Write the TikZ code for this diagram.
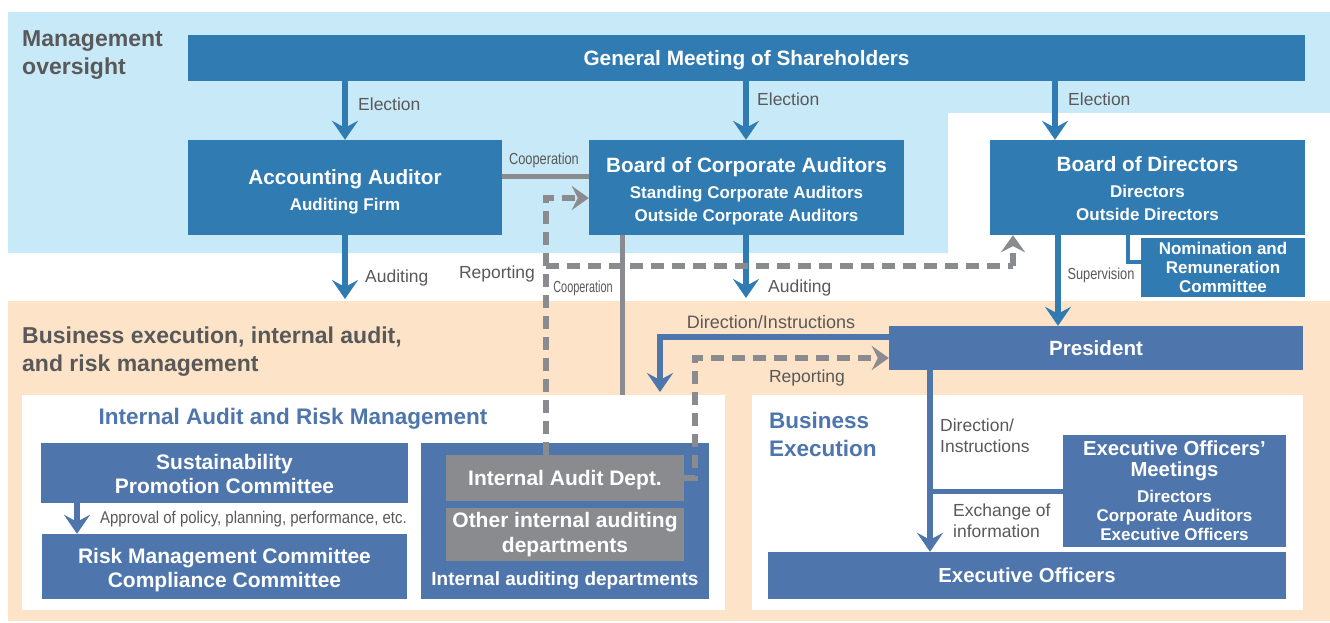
\documentclass[tikz,border=0pt]{standalone}
\usepackage{fontspec}
\setmainfont{Liberation Sans}
\newfontfamily\condfont[FakeStretch=0.8]{Liberation Sans}
\newfontfamily\narrowfont[FakeStretch=0.68]{Liberation Sans}
\newfontfamily\apprfont[FakeStretch=0.88]{Liberation Sans}
\usetikzlibrary{arrows.meta}
\definecolor{topblue}{HTML}{2F7BB2}
\definecolor{lowblue}{HTML}{4E76AD}
\definecolor{lightbg}{HTML}{C8E9F8}
\definecolor{peachbg}{HTML}{FDE3C7}
\definecolor{grayc}{HTML}{8A8B8E}
\definecolor{textgray}{HTML}{595959}
\newcommand\fsz[2]{\fontsize{#1}{#2}\selectfont}
\newcommand\bigt{\fsz{20.7}{23}}
\newcommand\subt{\fsz{17}{23}}
\newcommand\pad[1]{\rule{0pt}{#1}}
\tikzset{
  box/.style={rectangle, inner sep=0pt, text=white, align=center},
  topbox/.style={box, fill=topblue},
  lowbox/.style={box, fill=lowblue},
  graybox/.style={box, fill=grayc},
  onel/.style={text depth=0pt},
  lbl/.style={inner sep=0pt, text=textgray, font=\fsz{17.5}{21}, align=left},
  smalllbl/.style={inner sep=0pt, text=textgray, font=\condfont\fsz{16}{18}},
  sectitle/.style={inner sep=0pt, text=textgray, font=\bfseries\fsz{23}{28}, align=left},
  bluetitle/.style={inner sep=0pt, text=lowblue, font=\bfseries\fsz{22.5}{28}, align=left},
  bluearr/.style={draw=topblue, line width=5.5pt, -{Stealth[length=19pt,width=26pt,inset=7pt]}},
  lowarr/.style={draw=lowblue, line width=5.5pt, -{Stealth[length=19pt,width=26pt,inset=7pt]}},
  blueline/.style={draw=topblue, line width=4.5pt},
  lowline/.style={draw=lowblue, line width=5pt},
  grayline/.style={draw=grayc, line width=5pt},
  dashline/.style={draw=grayc, line width=6pt, dash pattern=on 13pt off 8pt},
  dasharr/.style={dashline, -{Stealth[length=17pt,width=24pt,inset=6pt,fill=grayc]}},
}
\begin{document}
\begin{tikzpicture}[x=1pt,y=-1pt]
\useasboundingbox (0,0) rectangle (1330,623);
% background regions
\fill[lightbg] (8,12) -- (1330,12) -- (1330,113) -- (948,113) -- (948,253) -- (8,253) -- cycle;
\fill[peachbg] (8,301) rectangle (1330,621);
\fill[white] (22,395) rectangle (725,610);
\fill[white] (752,395) rectangle (1303,610);

% section titles
\node[sectitle, anchor=west] (mo) at (22,55) {Management\\oversight};
\node[sectitle, anchor=west] (be) at (22,352) {Business execution, internal audit,\\and risk management};
\node[bluetitle, anchor=center] (iart) at (293,419) {Internal Audit and Risk Management};
\node[bluetitle, anchor=west] (bet) at (769,434) {Business\\Execution};

% boxes
\node[topbox, onel, minimum width=1117pt, minimum height=46pt, font=\bfseries\fsz{20.8}{24}] (gms) at (746.5,58) {General Meeting of Shareholders};
\node[topbox, minimum width=314pt, minimum height=95pt, font=\bfseries\subt] (aa) at (345,187.5) {\bigt\pad{23pt}Accounting Auditor\\[3pt]\subt Auditing Firm};
\node[topbox, minimum width=315pt, minimum height=95pt, font=\bfseries\subt] (bca) at (746.5,187.5) {\bigt\pad{22pt}Board of Corporate Auditors\\[3pt]\subt Standing Corporate Auditors\\\subt Outside Corporate Auditors};
\node[topbox, minimum width=315pt, minimum height=95pt, font=\bfseries\subt] (bod) at (1147.5,187.5) {\bigt\pad{18pt}Board of Directors\\[3pt]\subt Directors\\\subt Outside Directors};
\node[topbox, minimum width=164pt, minimum height=59pt, font=\bfseries\fsz{17}{19}] (nrc) at (1223,267.5) {Nomination and\\Remuneration\\Committee};
\node[lowbox, onel, minimum width=414pt, minimum height=44pt, font=\bfseries\fsz{20.6}{24}] (pres) at (1096,348) {President};

\node[lowbox, minimum width=367pt, minimum height=60pt, font=\bfseries\fsz{21}{24}] (spc) at (224.5,473) {\pad{17pt}Sustainability\\Promotion Committee};
\node[lowbox, minimum width=365pt, minimum height=65pt, font=\bfseries\fsz{21}{24}] (rmc) at (224.5,566.5) {\pad{23pt}Risk Management Committee\\Compliance Committee};

\node[lowbox, minimum width=288pt, minimum height=156pt] (iadc) at (565,521) {};
\node[graybox, onel, minimum width=238pt, minimum height=46pt, font=\bfseries\fsz{21}{24}] (iad) at (565,478) {Internal Audit Dept.};
\node[graybox, minimum width=238pt, minimum height=53pt, font=\bfseries\fsz{21}{25}] (oiad) at (565,534.5) {Other internal auditing\\departments};
\node[inner sep=0pt, text=white, font=\bfseries\fsz{19}{22}] (iadl) at (565,581) {Internal auditing departments};

\node[lowbox, minimum width=223pt, minimum height=112pt, font=\bfseries\fsz{17}{19}] (eom) at (1174.5,491) {\fsz{20.3}{19}Executive Officers’\\[2pt]\fsz{20.3}{19}Meetings\\[7pt]Directors\\Corporate Auditors\\Executive Officers};
\node[lowbox, onel, minimum width=518pt, minimum height=47pt, font=\bfseries\fsz{20.3}{24}] (eo) at (1027,575.5) {Executive Officers};

% coordinates for free ends
\coordinate (aud1) at (345,299);
\coordinate (aud2) at (746,298);
\coordinate (dirtip) at (660,392);
\coordinate (coopend) at (622,395);
\coordinate (xj) at (930,491);
\coordinate (repA) at (546,266);
\coordinate (repB) at (1013,266);
\coordinate (repC) at (695,358);

% election arrows
\draw[bluearr] (gms.south -| aa.north) -- (aa.north);
\draw[bluearr] (gms.south -| aud2) -- (bca.north -| aud2);
\draw[bluearr] (gms.south -| 1055,0) -- (bod.north -| 1055,0);
\node[lbl, anchor=west] (el1) at (358,104) {Election};
\node[lbl, anchor=west] (el2) at (757,99) {Election};
\node[lbl, anchor=west] (el3) at (1068,99) {Election};

% auditing arrows
\draw[bluearr] (aa.south) -- (aud1);
\draw[bluearr] (bca.south -| aud2) -- (aud2);
\node[lbl, anchor=west] (au1) at (365,278) {Auditing};
\node[lbl, anchor=west] (au2) at (768,288) {Auditing};

% cooperation
\draw[grayline] (aa.east |- 0,176) -- (bca.west |- 0,176);
\node[smalllbl] (co1) at (544,160) {Cooperation};
\draw[grayline] (bca.south -| coopend) -- (coopend);
\node[smalllbl, font=\narrowfont\fsz{16}{18}] (co2) at (583,288) {Cooperation};

% reporting dashed lines
\draw[dasharr] (iad.north -| repA) -- (546,198) -- (bca.west |- 0,198);
\draw[dashline] (repA) -- (repB);
\draw[dasharr] (repB) -- (bod.south -| repB);
\node[lbl] (rep1) at (497,274) {Reporting};
\draw[dasharr] (iad.east) -| (repC) -- (pres.west |- repC);
\node[lbl] (rep2) at (807,378) {Reporting};

% direction / instructions
\draw[lowarr] (pres.west |- 0,337) -| (dirtip);
\node[lbl, font=\fsz{18}{21}] (dir1) at (771,322) {Direction/Instructions};

% supervision
\draw[bluearr] (bod.south -| 1058,0) -- (pres.north -| 1058,0);
\node[smalllbl] (sup) at (1101,275) {Supervision};
\draw[blueline] (bod.south -| 1128,0) |- (nrc.west |- 0,262);

% president to executive officers
\draw[lowarr] (pres.south -| xj) -- (eo.north -| xj);
\draw[lowline] (xj) -- (eom.west |- xj);
\node[lbl, anchor=west] (dir2) at (940,436) {Direction/\\Instructions};
\node[lbl, anchor=west] (exch) at (953,521) {Exchange of\\information};

% approval
\draw[lowarr] (spc.south -| 77,0) -- (rmc.north -| 77,0);
\node[inner sep=0pt, text=textgray, font=\apprfont\fsz{17}{19}, anchor=west] (appr) at (100,519) {Approval of policy, planning, performance, etc.};
\end{tikzpicture}
\end{document}
